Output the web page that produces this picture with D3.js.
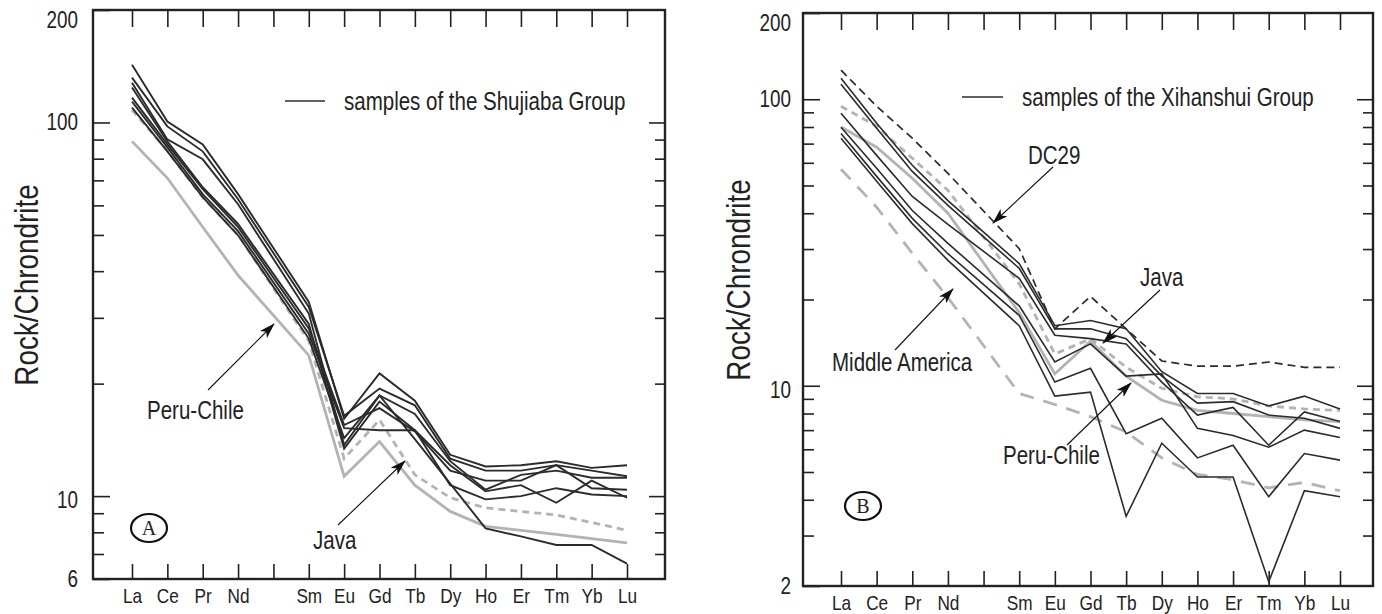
<!DOCTYPE html>
<html>
<head>
<meta charset="utf-8">
<script src="https://cdn.jsdelivr.net/npm/d3@7"></script>
<style>
  body { margin: 0; background: #fff; }
  text { font-family: "Liberation Sans Narrow", "Arial Narrow", "Liberation Sans", Arial, sans-serif; fill: #222; }
</style>
</head>
<body>
<svg id="chart" width="1382" height="614"></svg>
<script>
// REE order with the Pm slot kept for the tick marks
const tickElements = ['La','Ce','Pr','Nd','Pm','Sm','Eu','Gd','Tb','Dy','Ho','Er','Tm','Yb','Lu']
const ree = ['La','Ce','Pr','Nd','Sm','Eu','Gd','Tb','Dy','Ho','Er','Tm','Yb','Lu']

// panel A - samples of the Shujiaba Group
const shujiaba = [
  [142.8, 100.6, 87.4, 64.3, 33.1, 16.1, 21.3, 18.0, 12.9, 12.0, 12.1, 12.4, 11.9, 12.1],
  [131.8, 97.6, 83.7, 62.3, 32.1, 16.4, 19.4, 17.5, 12.6, 11.7, 11.7, 12.1, 11.7, 11.3],
  [127.8, 90.1, 79.7, 60.4, 30.8, 13.7, 18.6, 16.6, 12.4, 10.4, 11.4, 11.7, 11.2, 11.2],
  [124.0, 89.0, 67.1, 53.5, 28.9, 13.4, 17.9, 15.0, 12.1, 10.3, 10.7, 9.6, 11.0, 9.9],
  [116.6, 87.4, 66.3, 52.5, 28.1, 15.5, 17.2, 14.9, 11.7, 11.0, 11.0, 12.1, 10.5, 10.4],
  [113.7, 85.8, 64.3, 51.2, 27.2, 15.2, 15.0, 15.0, 10.7, 9.8, 10.0, 10.5, 10.1, 10.0],
  [109.6, 83.7, 63.1, 49.9, 26.4, 14.3, 18.6, 14.2, 10.8, 8.2, 7.8, 7.4, 7.4, 6.6]
]
const peruChileA = [89, 71, 52.5, 39, 23.8, 11.3, 14.0, 10.7, 9.1, 8.3, 8.1, 7.9, 7.7, 7.5]
const javaA = [108, 84, 63, 50, 26, 12.6, 16.0, 11.4, 9.9, 9.3, 9.1, 8.9, 8.5, 8.1]

// panel B - samples of the Xihanshui Group
const xihanshui = [
  [118.4, 82.4, 58.8, 44.3, 26.7, 16.2, 16.9, 15.8, 11.2, 9.4, 9.4, 8.5, 9.2, 8.3],
  [112.8, 79.2, 56.0, 42.6, 25.7, 15.8, 15.8, 14.6, 10.8, 8.7, 8.8, 7.9, 7.7, 7.1],
  [89.4, 63.7, 45.8, 36.6, 23.7, 15.0, 14.6, 14.0, 10.3, 7.9, 8.4, 6.2, 8.1, 7.5],
  [79.8, 57.4, 40.9, 31.4, 19.0, 12.1, 14.0, 10.8, 11.0, 7.1, 6.7, 6.1, 7.0, 6.6],
  [76.0, 53.8, 38.4, 28.9, 17.6, 10.3, 11.5, 6.8, 7.7, 5.6, 6.2, 4.1, 5.8, 5.5],
  [73.1, 51.7, 36.8, 27.4, 16.2, 9.2, 9.5, 3.5, 6.3, 4.8, 4.8, 2.07, 4.3, 4.1]
]
const dc29 = [126.3, 94.5, 73.1, 55.1, 30.1, 15.8, 20.5, 15.8, 12.2, 11.7, 11.7, 12.1, 11.6, 11.6]
const peruChileB = [80, 68, 53, 40, 18, 11.0, 14.3, 10.8, 8.9, 8.2, 8.0, 7.8, 7.6, 7.5]
const javaB = [94.5, 80.5, 62.2, 48.1, 22.7, 12.9, 14.6, 11.6, 9.8, 9.15, 9.0, 8.5, 8.3, 8.2]
const middleAmerica = [57, 42, 29, 20.3, 9.4, 8.6, 7.8, 6.9, 5.6, 4.9, 4.7, 4.4, 4.6, 4.3]

const yLabelsA = [200, 100, 10, 6]
const yMinorA = [90, 80, 70, 60, 50, 40, 30, 20, 9, 8, 7]
const yLabelsB = [200, 100, 10, 2]
const yMinorB = [90, 80, 70, 60, 50, 40, 30, 20, 9, 8, 7, 6, 5, 4, 3]

const svg = d3.select('#chart')

// squeeze text to look like the narrow face of the original
const narrow = 0.82
function condense(sel) {
    sel.each(function () {
        const w = this.getComputedTextLength()
        if (w > 0) {
            d3.select(this)
                .attr('textLength', w * narrow)
                .attr('lengthAdjust', 'spacingAndGlyphs')
        }
    })
}

const defs = svg.append('defs')
defs.append('marker')
    .attr('id', 'head')
    .attr('viewBox', '0 0 16 10')
    .attr('refX', 15).attr('refY', 5)
    .attr('markerWidth', 16).attr('markerHeight', 10)
    .attr('markerUnits', 'userSpaceOnUse')
    .attr('orient', 'auto')
  .append('path')
    .attr('d', 'M0,0 L16,5 L0,10 L4,5 Z')
    .attr('fill', '#111')

const black = '#2b2b2b'
const grey = '#b3b3b3'

function drawPanel(p) {
    const x = d3.scalePoint().domain(tickElements).range(p.xRange)
    const y = d3.scaleLog().domain(p.yDomain).range([p.bottom, p.top])

    const g = svg.append('g')

    // axes with inward ticks
    const bottomAxis = g.append('g').attr('transform', `translate(0, ${p.bottom})`)
        .call(d3.axisBottom(x).tickSize(-15).tickPadding(p.catPad).tickFormat(d => d === 'Pm' ? '' : d))
    g.append('g').attr('transform', `translate(0, ${p.top})`)
        .call(d3.axisTop(x).tickSize(-17).tickFormat(''))
    const leftAxis = g.append('g').attr('transform', `translate(${p.left}, 0)`)
        .call(d3.axisLeft(y).tickValues(p.yLabels).tickSize(-17).tickPadding(p.yPad).tickFormat(d3.format('d')))
    g.append('g').attr('transform', `translate(${p.left}, 0)`)
        .call(d3.axisLeft(y).tickValues(p.yMinor).tickSize(-11).tickFormat(''))
    g.append('g').attr('transform', `translate(${p.right}, 0)`)
        .call(d3.axisRight(y).tickValues(p.yLabels.slice(1, 3)).tickSize(-16).tickFormat(''))
    g.append('g').attr('transform', `translate(${p.right}, 0)`)
        .call(d3.axisRight(y).tickValues(p.yMinor).tickSize(-10).tickFormat(''))

    g.selectAll('.domain').remove()
    g.selectAll('.tick line').attr('stroke', '#222').attr('stroke-width', 1.6)
    bottomAxis.selectAll('text').style('font-size', '21px').attr('fill', '#222').call(condense)
    leftAxis.selectAll('text').style('font-size', '23px').attr('fill', '#222')
        .attr('y', d => d === 200 ? 10 : d === 10 ? 4 : 0)
        .call(condense)

    // frame
    g.append('rect')
        .attr('x', p.left).attr('y', p.top)
        .attr('width', p.right - p.left).attr('height', p.bottom - p.top)
        .attr('fill', 'none').attr('stroke', '#222').attr('stroke-width', 2.4)

    const line = d3.line()
        .x((d, i) => x(ree[i]))
        .y(d => y(d))

    // reference patterns underneath
    p.refs.forEach(r => {
        g.append('path')
            .attr('d', line(r.values))
            .attr('fill', 'none')
            .attr('stroke', grey)
            .attr('stroke-width', 2.8)
            .attr('stroke-dasharray', r.dash)
    })

    g.selectAll('.sample')
        .data(p.samples)
        .enter()
        .append('path')
            .attr('class', 'sample')
            .attr('d', d => line(d))
            .attr('fill', 'none')
            .attr('stroke', black)
            .attr('stroke-width', p.sampleWidth)
            .attr('stroke-linejoin', 'miter')

    if (p.dashed) {
        g.append('path')
            .attr('d', line(p.dashed))
            .attr('fill', 'none')
            .attr('stroke', black)
            .attr('stroke-width', 1.7)
            .attr('stroke-dasharray', '8,5')
    }

    // legend
    g.append('line')
        .attr('x1', p.legend[0]).attr('x2', p.legend[1])
        .attr('y1', p.legend[2]).attr('y2', p.legend[2])
        .attr('stroke', black).attr('stroke-width', 1.6)
    g.append('text')
        .attr('x', p.legend[1] + 19).attr('y', p.legend[2])
        .attr('dy', '0.35em')
        .style('font-size', '25px')
        .text(p.legendText)
        .call(condense)

    // annotations
    p.notes.forEach(n => {
        g.append('text')
            .attr('x', n.tx).attr('y', n.ty)
            .attr('dy', '0.35em')
            .style('font-size', '25px')
            .text(n.text)
            .call(condense)
        g.append('line')
            .attr('x1', n.from[0]).attr('y1', n.from[1])
            .attr('x2', n.to[0]).attr('y2', n.to[1])
            .attr('stroke', '#111').attr('stroke-width', 1.1)
            .attr('marker-end', 'url(#head)')
    })

    // panel letter
    g.append('ellipse')
        .attr('cx', p.letter[0]).attr('cy', p.letter[1])
        .attr('rx', 18).attr('ry', 14)
        .attr('fill', 'none').attr('stroke', '#111').attr('stroke-width', 2.2)
    g.append('text')
        .attr('x', p.letter[0]).attr('y', p.letter[1])
        .attr('dy', '0.36em')
        .attr('text-anchor', 'middle')
        .style('font-family', '"Liberation Serif", "DejaVu Serif", serif')
        .style('font-size', '20px')
        .attr('fill', '#444')
        .text(p.letter[2])

    // y title
    g.append('text')
        .attr('transform', `translate(${p.titleX}, ${p.titleY}) rotate(-90)`)
        .attr('text-anchor', 'middle')
        .style('font-size', '34px')
        .text('Rock/Chrondrite')
        .call(condense)
}

drawPanel({
    left: 93, right: 665, top: 10, bottom: 579,
    xRange: [132, 627], yDomain: [6, 200],
    yLabels: yLabelsA, yMinor: yMinorA, yPad: 15, catPad: 9,
    samples: shujiaba, sampleWidth: 1.9,
    refs: [{values: peruChileA, dash: null}, {values: javaA, dash: '7,5'}],
    legend: [285, 325, 101], legendText: 'samples of the Shujiaba Group',
    notes: [
        {text: 'Peru-Chile', tx: 147, ty: 410, from: [208, 390], to: [274, 324]},
        {text: 'Java', tx: 313, ty: 540, from: [338, 525], to: [405, 461]}
    ],
    letter: [149, 528, 'A'],
    titleX: 38, titleY: 285
})

drawPanel({
    left: 803, right: 1373, top: 13, bottom: 586,
    xRange: [841, 1340], yDomain: [2, 200],
    yLabels: yLabelsB, yMinor: yMinorB, yPad: 12, catPad: 9,
    samples: xihanshui, sampleWidth: 1.6,
    dashed: dc29,
    refs: [{values: peruChileB, dash: null}, {values: javaB, dash: '7,5'}, {values: middleAmerica, dash: '14,10'}],
    legend: [962, 1003, 97], legendText: 'samples of the Xihanshui Group',
    notes: [
        {text: 'DC29', tx: 1028, ty: 155, from: [1053, 167], to: [993, 223]},
        {text: 'Java', tx: 1140, ty: 277, from: [1160, 290], to: [1103, 343]},
        {text: 'Middle America', tx: 832, ty: 362, from: [895, 350], to: [953, 289]},
        {text: 'Peru-Chile', tx: 1003, ty: 455, from: [1067, 445], to: [1131, 383]}
    ],
    letter: [863, 506, 'B'],
    titleX: 750, titleY: 280
})
</script>
</body>
</html>
